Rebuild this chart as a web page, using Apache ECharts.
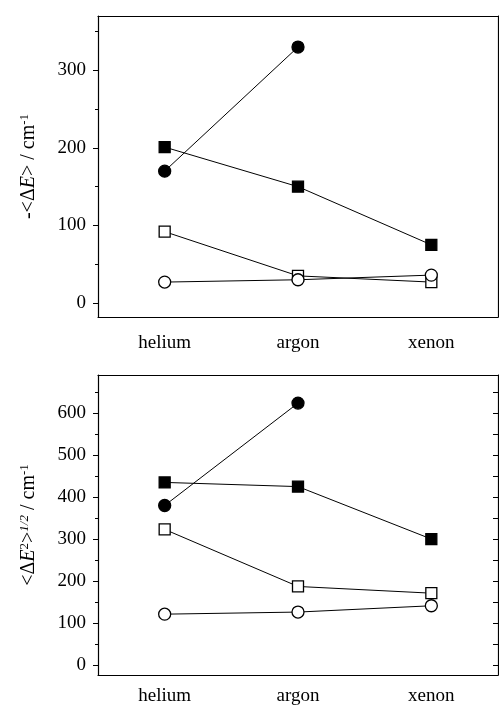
<!DOCTYPE html>
<html><head><meta charset="utf-8">
<script src="https://cdn.jsdelivr.net/npm/echarts@6/dist/echarts.min.js"></script>
<style>html,body{margin:0;padding:0;background:#fff}#c{width:499px;height:706px}</style>
</head><body><div id="c"></div>
<script>
const categories = ['helium', 'argon', 'xenon'];
// top panel: -<ΔE> / cm-1
const topFilledCircle = [170, 330, null];
const topFilledSquare = [201, 150, 75];
const topOpenSquare = [92, 35, 27];
const topOpenCircle = [27, 30, 36];
// bottom panel: <ΔE^2>^1/2 / cm-1
const botFilledCircle = [380, 624, null];
const botFilledSquare = [435, 425, 300];
const botOpenSquare = [323, 187, 171];
const botOpenCircle = [121, 126, 141];
const topTicks = [0, 100, 200, 300];
const topMinor = [50, 150, 250, 350];
const botTicks = [0, 100, 200, 300, 400, 500, 600];
const botMinor = [50, 150, 250, 350, 450, 550, 650];

const FONT = "'Liberation Serif','Times New Roman',serif";
const FS = 19;
const chart = echarts.init(document.getElementById('c'), null, {renderer: 'canvas'});

function xAxes(gi, margin) {
  return [
    {type: 'category', gridIndex: gi, data: categories, boundaryGap: true, position: 'bottom',
     axisLine: {onZero: false, lineStyle: {color: '#000', width: 1.2}},
     axisTick: {alignWithLabel: true, inside: false, length: 5, lineStyle: {color: '#000'}},
     axisLabel: {color: '#000', fontFamily: FONT, fontSize: FS, margin: margin}},
    {type: 'category', gridIndex: gi, data: categories, boundaryGap: true, position: 'top',
     axisLine: {onZero: false, lineStyle: {color: '#000', width: 1.2}},
     axisTick: {alignWithLabel: true, inside: false, length: 5, lineStyle: {color: '#000'}},
     axisLabel: {show: false}}
  ];
}
function yAxes(gi, min, max, name, ticks, minor, rightTicks) {
  const base = {type: 'value', gridIndex: gi, min: min, max: max, splitLine: {show: false}};
  return [
    Object.assign({}, base, {position: 'left',
     name: name, nameLocation: 'middle', nameRotate: 90, nameGap: 58,
     nameTextStyle: {color: '#000', fontFamily: FONT, fontSize: 20,
       rich: {
         i: {fontFamily: FONT, fontSize: 20, fontStyle: 'italic', color: '#000'},
         sup: {fontFamily: FONT, fontSize: 13, color: '#000', verticalAlign: 'top', padding: [0,0,9,0]},
         isup: {fontFamily: FONT, fontSize: 13, fontStyle: 'italic', color: '#000', verticalAlign: 'top', padding: [0,0,9,0]}
       }},
     axisLine: {show: true, onZero: false, lineStyle: {color: '#000', width: 1.2}},
     axisTick: {show: true, inside: false, length: 5, customValues: ticks, lineStyle: {color: '#000'}},
     axisLabel: {color: '#000', fontFamily: FONT, fontSize: FS, margin: 12, customValues: ticks}}),
    Object.assign({}, base, {position: 'left',
     axisLine: {show: false, onZero: false},
     axisTick: {show: true, inside: false, length: 3, customValues: minor, lineStyle: {color: '#000'}},
     axisLabel: {show: false}}),
    Object.assign({}, base, {position: 'right',
     axisLine: {show: true, onZero: false, lineStyle: {color: '#000', width: 1.2}},
     axisTick: {show: rightTicks, inside: true, length: 5, customValues: ticks.concat(minor), lineStyle: {color: '#000'}},
     axisLabel: {show: false}})
  ];
}
function ser(xi, yi, data, symbol, filled) {
  return {type: 'line', xAxisIndex: xi, yAxisIndex: yi, data: data,
    symbol: symbol, symbolSize: symbol === 'circle' ? 12 : 11,
    showAllSymbol: true, connectNulls: false, animation: false,
    lineStyle: {color: '#000', width: 1},
    itemStyle: {color: filled ? '#000' : '#fff', borderColor: '#000', borderWidth: 1.3}};
}

const option = {
  backgroundColor: '#fff',
  animation: false,
  grid: [
    {left: 98, top: 16, width: 400, height: 301, outerBoundsMode: 'none', containLabel: false},
    {left: 98, top: 375, width: 400, height: 300, outerBoundsMode: 'none', containLabel: false}
  ],
  xAxis: [...xAxes(0, 17), ...xAxes(1, 12)],
  yAxis: [
    ...yAxes(0, -18, 370, '-<Δ{i|E}> / cm{sup|-1}', topTicks, topMinor, false),
    ...yAxes(1, -24, 691, '<Δ{i|E}{sup|2}>{isup|1/2} / cm{sup|-1}', botTicks, botMinor, true)
  ],
  series: [
    ser(0, 0, topOpenSquare, 'rect', false),
    ser(0, 0, topOpenCircle, 'circle', false),
    ser(0, 0, topFilledSquare, 'rect', true),
    ser(0, 0, topFilledCircle, 'circle', true),
    ser(2, 3, botOpenSquare, 'rect', false),
    ser(2, 3, botOpenCircle, 'circle', false),
    ser(2, 3, botFilledSquare, 'rect', true),
    ser(2, 3, botFilledCircle, 'circle', true)
  ]
};
chart.setOption(option);
</script></body></html>
